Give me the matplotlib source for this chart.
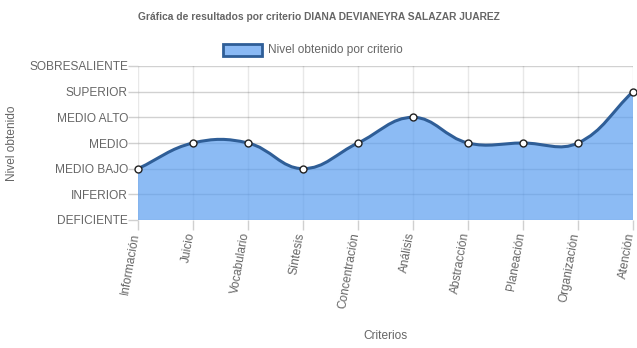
import matplotlib.pyplot as plt
from matplotlib.path import Path
from matplotlib.patches import PathPatch, Rectangle
from matplotlib.transforms import ScaledTranslation
import numpy as np

plt.rcParams['font.family'] = ['Liberation Sans', 'DejaVu Sans']

criterios = ['Información', 'Juicio', 'Vocabulario', 'Síntesis', 'Concentración',
             'Análisis', 'Abstracción', 'Planeación', 'Organización', 'Atención']
niveles = [2, 3, 3, 2, 3, 4, 3, 3, 3, 5]
etiquetas_nivel = ['DEFICIENTE', 'INFERIOR', 'MEDIO BAJO', 'MEDIO', 'MEDIO ALTO',
                   'SUPERIOR', 'SOBRESALIENTE']

gris = '#666666'
linea = '#2f5e97'
relleno = '#5b9ef0'

fig = plt.figure(figsize=(6.37, 3.48), dpi=100)
ax = fig.add_axes([138/637, 1-220/348, 495/637, 154/348])

x = np.arange(len(niveles))
y = np.array(niveles, dtype=float)

# curva tipo chart.js (tension 0.4), distancias en pixeles
sx, sy = 495/9, 154/6
t = 0.4
ctrl_prev, ctrl_next = [], []
n = len(x)
for i in range(n):
    p0 = (x[max(i-1, 0)], y[max(i-1, 0)])
    p1 = (x[i], y[i])
    p2 = (x[min(i+1, n-1)], y[min(i+1, n-1)])
    d01 = np.hypot((p1[0]-p0[0])*sx, (p1[1]-p0[1])*sy)
    d12 = np.hypot((p2[0]-p1[0])*sx, (p2[1]-p1[1])*sy)
    tot = d01 + d12
    s01 = d01/tot if tot else 0
    s12 = d12/tot if tot else 0
    fa, fb = t*s01, t*s12
    cp = (p1[0]-fa*(p2[0]-p0[0]), p1[1]-fa*(p2[1]-p0[1]))
    cn = (p1[0]+fb*(p2[0]-p0[0]), p1[1]+fb*(p2[1]-p0[1]))
    cp = (min(max(cp[0], 0), 9), min(max(cp[1], 0), 6))
    cn = (min(max(cn[0], 0), 9), min(max(cn[1], 0), 6))
    ctrl_prev.append(cp)
    ctrl_next.append(cn)

verts = [(x[0], y[0])]
codes = [Path.MOVETO]
for i in range(1, n):
    verts += [ctrl_next[i-1], ctrl_prev[i], (x[i], y[i])]
    codes += [Path.CURVE4]*3

fill_verts = verts + [(x[-1], 0), (x[0], 0), (x[0], y[0])]
fill_codes = codes + [Path.LINETO, Path.LINETO, Path.CLOSEPOLY]
ax.add_patch(PathPatch(Path(fill_verts, fill_codes), facecolor=relleno, alpha=0.7,
                       edgecolor='none', zorder=2))
ax.add_patch(PathPatch(Path(verts, codes), facecolor='none', edgecolor=linea,
                       lw=2.2, zorder=3, capstyle='round'))
ax.plot(x, y, 'o', ms=5, mfc='white', mec='#222222', mew=1, zorder=4, clip_on=False)

ax.set_xlim(0, 9)
ax.set_ylim(0, 6)
ax.set_yticks(range(7))
ax.set_yticklabels(etiquetas_nivel)
ax.set_xticks(x)
ax.set_xticklabels(criterios, rotation=80, ha='right', va='center', rotation_mode='anchor')
ax.tick_params(axis='both', colors='#d0d0d0', labelcolor=gris, labelsize=8.6, length=7.2, width=1)
ax.tick_params(axis='x', pad=2)
ax.tick_params(axis='y', pad=0)
desplaza = ScaledTranslation(-2/100, 0, fig.dpi_scale_trans)
for lab in ax.get_xticklabels():
    lab.set_transform(lab.get_transform() + desplaza)

for v in range(7):
    ax.axhline(v, color='#000000', alpha=0.18, lw=1, zorder=1)
for v in x:
    ax.axvline(v, color='#000000', alpha=0.09, lw=1, zorder=1)
for s in ax.spines.values():
    s.set_visible(False)

ax.set_xlabel('Criterios', color=gris, fontsize=8.6, labelpad=15)
ax.set_ylabel('Nivel obtenido', color=gris, fontsize=8.6)
ax.yaxis.set_label_coords((18-138)/495, 0.5)

fig.text(0.5, 1-17/348, 'Gráfica de resultados por criterio DIANA DEVIANEYRA SALAZAR JUAREZ',
         ha='center', va='center', fontsize=7.4, fontweight='bold', color=gris)

fig.patches.append(Rectangle((223/637, 1-56/348), 39/637, 12/348, transform=fig.transFigure,
                             facecolor='#8ab9f4', edgecolor=linea, lw=2))
fig.text(268/637, 1-50/348, 'Nivel obtenido por criterio', ha='left', va='center',
         fontsize=8.6, color=gris)

fig.savefig('out.png', dpi=100)
